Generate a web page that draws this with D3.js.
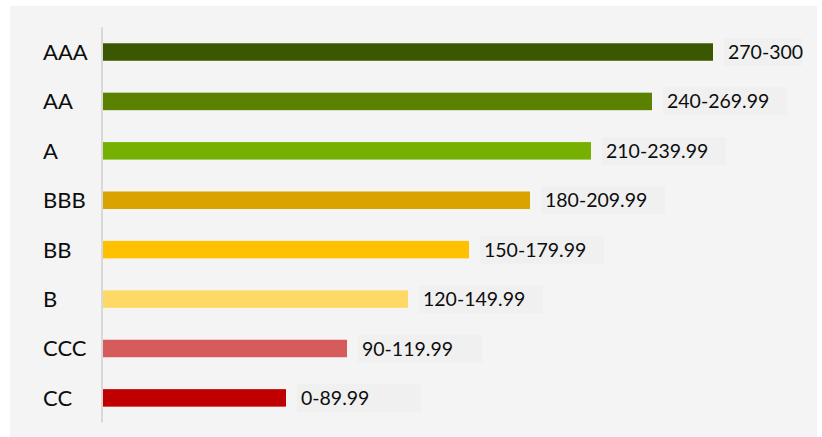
<!DOCTYPE html>
<html>
<head>
<meta charset="utf-8">
<script src="https://cdn.jsdelivr.net/npm/d3@7"></script>
<style>
  html, body { margin: 0; padding: 0; background: #ffffff; }
  svg { display: block; }
</style>
</head>
<body>
<svg id="chart" width="822" height="437"></svg>
<script>
// Data
const categories = ["AAA", "AA", "A", "BBB", "BB", "B", "CCC", "CC"];
const values = [300, 270, 240, 210, 180, 150, 120, 90];
const rangeLabels = ["270-300", "240-269.99", "210-239.99", "180-209.99", "150-179.99", "120-149.99", "90-119.99", "0-89.99"];
const colors = ["#3b5800", "#5a8200", "#76b000", "#d9a400", "#ffc000", "#ffd966", "#d65c5c", "#c00000"];

const rows = categories.map((c, i) => ({ cat: c, value: values[i], label: rangeLabels[i], color: colors[i] }));

const svg = d3.select("#chart");
const W = 822, H = 437;

// outer background panel
svg.append("rect").attr("x", 10).attr("y", 6).attr("width", 807).attr("height", H - 6).attr("fill", "#f4f4f4");

const x = d3.scaleLinear().domain([0, 300]).range([103, 713]);
const y = d3.scaleBand().domain(categories).range([27.3, 422.6]).paddingInner(0.646).paddingOuter(0.323);

// data label background boxes
svg.append("g").selectAll("rect").data(rows).join("rect")
  .attr("x", d => x(d.value) + 11)
  .attr("y", d => y(d.cat) + y.bandwidth() / 2 - 14)
  .attr("width", d => Math.min(124, 802 - (x(d.value) + 11)))
  .attr("height", 28)
  .attr("fill", "#f0f0f0");

// bars
svg.append("g").selectAll("rect").data(rows).join("rect")
  .attr("x", x(0))
  .attr("y", d => y(d.cat))
  .attr("width", d => x(d.value) - x(0))
  .attr("height", y.bandwidth())
  .attr("fill", d => d.color);

// y axis
const yAxis = d3.axisLeft(y).tickSize(0).tickPadding(0);
const gy = svg.append("g").attr("transform", "translate(102,0)").call(yAxis);
gy.select(".domain").attr("stroke", "#d9d9d9").attr("stroke-width", 2)
  .attr("d", `M0,${y.range()[0]}V${y.range()[1]}`);
gy.selectAll(".tick text")
  .attr("x", -59)
  .attr("text-anchor", "start")
  .attr("dy", "0.36em")
  .attr("fill", "#0d0d0d")
  .style("font-family", "Lato, 'Open Sans', sans-serif")
  .style("font-size", "22px");

// data labels
svg.append("g").selectAll("text").data(rows).join("text")
  .attr("x", d => x(d.value) + 15)
  .attr("y", d => y(d.cat) + y.bandwidth() / 2)
  .attr("dy", "0.36em")
  .attr("fill", "#0d0d0d")
  .style("font-family", "Lato, 'Open Sans', sans-serif")
  .style("font-size", "19.5px")
  .text(d => d.label);
</script>
</body>
</html>
